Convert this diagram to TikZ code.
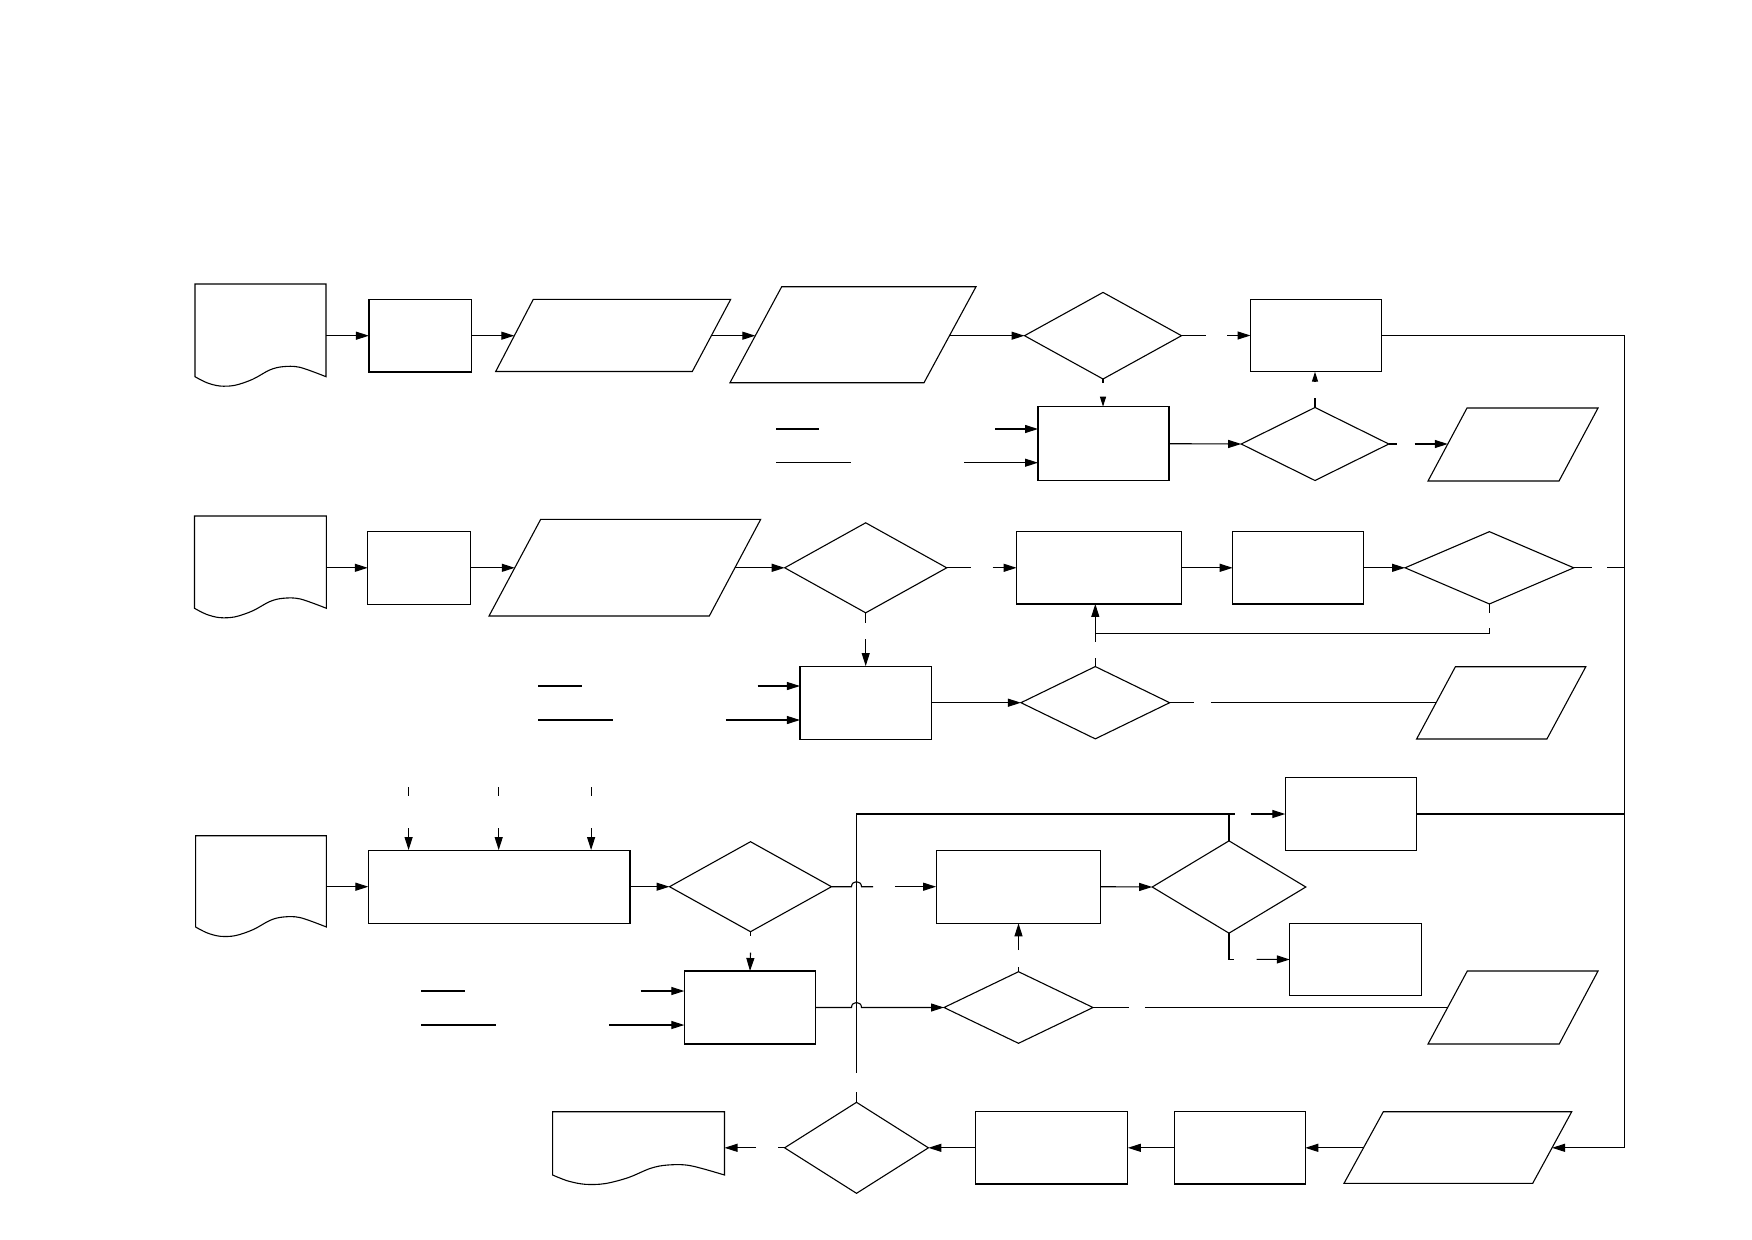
\documentclass[tikz,border=0pt]{standalone}
\usetikzlibrary{arrows.meta,shapes.geometric,calc}
\newcommand\docshape[5]{%
  \pgfmathsetmacro\docW{#4-#2}%
  \draw[shp] (#2,#3) -- (#4,#3) -- (#4,#5) -- plot[smooth,tension=0.55] coordinates {(#4,#5) ({#2+0.80*\docW},{#5-9.4}) ({#2+0.67*\docW},{#5-10}) ({#2+0.57*\docW},{#5-6.7}) ({#2+0.44*\docW},{#5+2.6}) ({#2+0.305*\docW},{#5+8.6}) ({#2+0.19*\docW},{#5+9.3}) ({#2+0.09*\docW},{#5+6}) (#2,#5)} -- cycle;%
  \coordinate (#1) at ({(#2+#4)/2},{(#3+#5)/2});%
}
\begin{document}
\begin{tikzpicture}[x=1pt,y=-1pt,line width=1.1pt,
  shp/.style={draw=black,line width=1.1pt},
  box/.style 2 args={shp,rectangle,inner sep=0pt,outer sep=0pt,minimum width=#1pt,minimum height=#2pt},
  dia/.style 2 args={shp,diamond,inner sep=0pt,outer sep=0pt,minimum width=#1pt,minimum height=#2pt},
  arr/.style={-{Triangle[length=13pt,width=8pt]}},
  sarr/.style={-{Triangle[length=10pt,width=6pt]}}]
\fill[white] (0,0) rectangle (1752,1239);
\useasboundingbox (0,0) rectangle (1752,1239);

% ---------- documents ----------
\docshape{doc1}{195}{284}{326}{376.7}
\docshape{doc2}{194.5}{516}{326.4}{608.3}
\docshape{doc3}{195.6}{835.7}{326.4}{927}
\docshape{doc4}{552.6}{1111.7}{724.5}{1175}
\coordinate (doc1e) at (326,335.7);
\coordinate (doc2e) at (326.4,567.8);
\coordinate (doc3e) at (326.4,886.7);
\coordinate (doc4e) at (724.5,1147.8);

% ---------- parallelograms ----------
\draw[shp] (533.3,299.3) -- (730.7,299.3) -- (692.3,371.5) -- (495.7,371.5) -- cycle;
\coordinate (p1l) at (514.3,335.7); \coordinate (p1r) at (710.9,335.7);
\draw[shp] (781.7,286.7) -- (976,286.7) -- (924,382.7) -- (730,382.7) -- cycle;
\coordinate (p2l) at (755.3,335.7); \coordinate (p2r) at (949.5,335.7);
\draw[shp] (1467,408) -- (1598,408) -- (1559,481) -- (1428,481) -- cycle;
\coordinate (pR2l) at (1447.8,444);
\draw[shp] (540.7,519.3) -- (760.7,519.3) -- (709.3,616) -- (489,616) -- cycle;
\coordinate (p3l) at (514.8,567.8); \coordinate (p3r) at (734.9,567.8);
\draw[shp] (1455.4,666.7) -- (1585.8,666.7) -- (1546.9,739) -- (1416.6,739) -- cycle;
\coordinate (p4l) at (1436.1,702.7);
\draw[shp] (1467.3,971) -- (1598,971) -- (1559.2,1044) -- (1428,1044) -- cycle;
\coordinate (p6l) at (1447.7,1007.5);
\draw[shp] (1383.3,1111.7) -- (1571.7,1111.7) -- (1532.7,1183.3) -- (1344,1183.3) -- cycle;
\coordinate (pBl) at (1363.5,1147.8); \coordinate (pBr) at (1552,1147.8);

% ---------- boxes and decisions ----------
\node[box={102.5}{72.6}] (b1) at (420.2,335.7) {};
\node[dia={157}{86.6}] (d1) at (1103,335.7) {};
\node[box={131}{72.4}] (bR1) at (1316,335.5) {};
\node[box={131}{74}] (bR2) at (1103.5,443.7) {};
\node[dia={147.6}{73}] (d2) at (1315,444) {};
\node[box={103}{72.6}] (b3) at (419.3,567.8) {};
\node[dia={162}{90}] (d3) at (865.7,567.8) {};
\node[box={165.2}{72.3}] (b5) at (1099.2,567.8) {};
\node[box={131.2}{72.3}] (b6) at (1298.3,567.8) {};
\node[dia={168.7}{72.3}] (d4) at (1489.4,567.8) {};
\node[box={131.5}{73.3}] (b4) at (865.7,702.7) {};
\node[dia={148.7}{72.3}] (d5) at (1095.3,702.7) {};
\node[box={131}{73}] (b9) at (1350.8,814) {};
\node[box={261.6}{73.3}] (b7) at (499.2,886.7) {};
\node[dia={162}{90}] (d6) at (750.5,886.7) {};
\node[box={164.8}{73.3}] (b10) at (1018.5,886.7) {};
\node[dia={153.6}{92.3}] (d7) at (1229,887) {};
\node[box={131.6}{72.4}] (b11) at (1355.6,959.5) {};
\node[box={131.3}{73}] (b8) at (750,1007.5) {};
\node[dia={149}{71.6}] (d8) at (1018.5,1007.5) {};
\node[dia={143.8}{91}] (d9) at (856.5,1147.8) {};
\node[box={152.2}{72.3}] (b12) at (1051.7,1147.8) {};
\node[box={130.5}{72.3}] (b13) at (1240,1147.8) {};

% helper coordinates
\coordinate (rtop) at (1624.5,335.5);
\coordinate (rbot) at (1624.5,1147.8);
\coordinate (vtop) at (856.5,814);
\coordinate (iy1) at (0,429);   \coordinate (iy2) at (0,462.7);
\coordinate (iy3) at (0,686);   \coordinate (iy4) at (0,720);
\coordinate (iy5) at (0,991);   \coordinate (iy6) at (0,1025);
\coordinate (t1) at (408.6,828.3); \coordinate (t2) at (498.7,828.3); \coordinate (t3) at (591.1,828.3);

% ---------- row 1 ----------
\draw[arr] (doc1e) -- (b1.west);
\draw[arr] (b1.east) -- (p1l);
\draw[arr] (p1r) -- (p2l);
\draw[arr] (p2r) -- (d1.west);
\draw (d1.east) -- ++(24,0);
\draw[arr] (1227,335.5) -- (bR1.west);
\draw[arr] (bR1.east) -- (rtop) -- (rbot) -- (pBr);
\draw (d1.south) -- ++(0,4);
\draw[sarr] (1103,396.7) -- (bR2.north -| d1.south);

% ---------- row 2 ----------
\draw (776,429) -- (819,429);
\draw[arr] (995.4,429) -- (bR2.west |- iy1);
\draw (776,462.7) -- (850.8,462.7);
\draw[arr] (964,462.7) -- (bR2.west |- iy2);
\draw[arr] (bR2.east) -- (d2.west);
\draw (d2.north) -- ++(0,-9.4);
\draw[sarr] (1315,381.7) -- (bR1.south -| d2.north);
\draw (d2.east) -- ++(8.4,0);
\draw[arr] (1414.5,444) -- (pR2l);

% ---------- row 3 ----------
\draw[arr] (doc2e) -- (b3.west);
\draw[arr] (b3.east) -- (p3l);
\draw[arr] (p3r) -- (d3.west);
\draw (d3.east) -- ++(24,0);
\draw[arr] (992.5,567.8) -- (b5.west);
\draw[arr] (b5.east) -- (b6.west);
\draw[arr] (b6.east) -- (d4.west);
\draw (d4.east) -- ++(18,0);
\draw (1607.2,567.8) -- (rtop |- d4.east);
\draw (d4.south) -- ++(0,8.7);
\draw[arr] (1489.4,628) -- (1489.4,633.3) -- (1095.3,633.3) -- (b5.south -| d5.north);
\draw (d5.north) -- ++(0,-8.4);
\draw (1095.3,641.7) -- (1095.3,633.3);

% ---------- row 4 ----------
\draw (d3.south) -- ++(0,10);
\draw[arr] (865.7,639.3) -- (b4.north);
\draw (538.1,686) -- (581.5,686);
\draw[arr] (757.5,686) -- (b4.west |- iy3);
\draw (538.1,720) -- (612.6,720);
\draw[arr] (725.9,720) -- (b4.west |- iy4);
\draw[arr] (b4.east) -- (d5.west);
\draw (d5.east) -- ++(24.6,0);
\draw (1210.8,702.7) -- (p4l);

% ---------- row 5 ----------
\draw (408.6,787.3) -- (408.6,795.7);
\draw (498.7,787.3) -- (498.7,795.7);
\draw (591.1,787.3) -- (591.1,795.7);
\draw[arr] (t1) -- (b7.north -| t1);
\draw[arr] (t2) -- (b7.north -| t2);
\draw[arr] (t3) -- (b7.north -| t3);
\draw[arr] (doc3e) -- (b7.west);
\draw[arr] (b7.east) -- (d6.west);
\draw (d6.east) -- (851.5,886.7) .. controls (851.5,880) and (861.5,880) .. (861.5,886.7) -- (873.2,886.7);
\draw[arr] (894.9,886.7) -- (b10.west);
\draw[arr] (b10.east) -- (d7.west);
\draw (856.5,1072.6) -- (vtop) -- (1235,814);
\draw (d7.north) -- (d7.north |- vtop);
\draw[arr] (1250.5,814) -- (b9.west);
\draw (b9.east) -- (rtop |- b9.east);
\draw (d7.south) -- (1229,959.3) -- (1233.7,959.3);
\draw[arr] (1256.6,959.3) -- (b11.west);

% ---------- row 6 ----------
\draw (d6.south) -- ++(0,4.7);
\draw[arr] (750.5,952.7) -- (b8.north);
\draw (421,991) -- (464.8,991);
\draw[arr] (640.7,991) -- (b8.west |- iy5);
\draw (421,1025) -- (496,1025);
\draw[arr] (609.4,1025) -- (b8.west |- iy6);
\draw[arr] (b8.east) -- (851.5,1007.5) .. controls (851.5,1000.8) and (861.5,1000.8) .. (861.5,1007.5) -- (d8.west);
\draw (d8.north) -- ++(0,-5);
\draw[arr] (1018.5,950) -- (b10.south);
\draw (d8.east) -- ++(35.7,0);
\draw (1144.9,1007.5) -- (p6l);

% ---------- row 7 ----------
\draw (856.5,1092.3) -- (d9.north);
\draw[arr] (pBl) -- (b13.east);
\draw[arr] (b13.west) -- (b12.east);
\draw[arr] (b12.west) -- (d9.east);
\draw (d9.west) -- ++(-7,0);
\draw[arr] (756,1147.8) -- (doc4e);
\end{tikzpicture}
\end{document}
